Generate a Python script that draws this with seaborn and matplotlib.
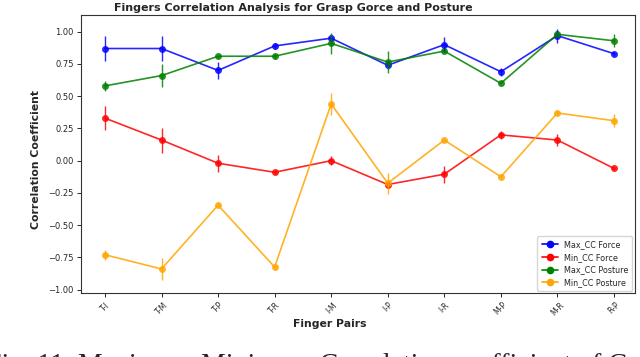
import numpy as np
import pandas as pd
import matplotlib
matplotlib.use("Agg")
import matplotlib.pyplot as plt
import seaborn as sns
from matplotlib.lines import Line2D

pairs = ["T-I", "T-M", "T-P", "T-R", "I-M", "I-P", "I-R", "M-P", "M-R", "R-P"]

max_force = [0.87, 0.87, 0.70, 0.89, 0.95, 0.74, 0.90, 0.69, 0.97, 0.83]
max_force_err = [0.095, 0.095, 0.065, 0.02, 0.03, 0.03, 0.06, 0.03, 0.055, 0.01]

min_force = [0.33, 0.16, -0.02, -0.09, 0.00, -0.185, -0.105, 0.20, 0.16, -0.06]
min_force_err = [0.093, 0.097, 0.065, 0.01, 0.035, 0.02, 0.065, 0.03, 0.05, 0.01]

max_posture = [0.58, 0.66, 0.81, 0.81, 0.91, 0.765, 0.85, 0.60, 0.98, 0.93]
max_posture_err = [0.04, 0.088, 0.01, 0.02, 0.084, 0.088, 0.01, 0.005, 0.02, 0.05]

min_posture = [-0.73, -0.84, -0.345, -0.825, 0.44, -0.175, 0.16, -0.125, 0.37, 0.31]
min_posture_err = [0.04, 0.088, 0.01, 0.01, 0.084, 0.083, 0.01, 0.01, 0.01, 0.05]

series_names = ["Max_CC Force", "Min_CC Force", "Max_CC Posture", "Min_CC Posture"]
series_vals = [max_force, min_force, max_posture, min_posture]
series_errs = [max_force_err, min_force_err, max_posture_err, min_posture_err]
colors = ["blue", "red", "green", "orange"]

rows = []
for name, vals, errs in zip(series_names, series_vals, series_errs):
    for i, (p, v, e) in enumerate(zip(pairs, vals, errs)):
        rows.append({"pos": i, "pair": p, "value": v, "err": e, "series": name})
df = pd.DataFrame(rows)

sns.set_style("ticks")
plt.rcParams["font.family"] = ["DejaVu Sans"]

fig = plt.figure(figsize=(6.4, 3.57), dpi=100)
ax = fig.add_axes([0.126, 0.178, 0.866, 0.780])

palette = dict(zip(series_names, colors))
sns.lineplot(data=df, x="pos", y="value", hue="series", hue_order=series_names,
             palette=palette, marker="o", markersize=5, markeredgewidth=0,
             linewidth=1.2, alpha=0.85, legend=False, ax=ax, sort=False,
             estimator=None)

for name, c in zip(series_names, colors):
    sub = df[df["series"] == name]
    ax.errorbar(sub["pos"], sub["value"], yerr=sub["err"], fmt="none",
                ecolor=c, elinewidth=1.0, alpha=0.85)

leg_handles = [Line2D([0], [0], color=c, marker="o", markersize=4.5, linewidth=1.2)
               for c in colors]
ax.legend(leg_handles, series_names, loc="lower right", fontsize=5.8,
          frameon=True, borderpad=0.5, handlelength=2.0, labelspacing=0.45,
          borderaxespad=0.3)

yt = [-1.0, -0.75, -0.5, -0.25, 0.0, 0.25, 0.5, 0.75, 1.0]
ax.set_xlim(-0.43, 9.37)
ax.set_ylim(-1.03, 1.13)
ax.set_xticks(range(len(pairs)))
ax.set_xticklabels(pairs, rotation=45, fontsize=5.5)
ax.set_yticks(yt)
ax.set_yticklabels([f"{v:.2f}".replace("-", "\u2212") for v in yt], fontsize=6)
ax.tick_params(length=3, width=0.7, pad=2)
for s in ax.spines.values():
    s.set_linewidth(0.8)
    s.set_color("#333333")
    s.set_visible(True)

ax.set_title("Fingers Correlation Analysis for Grasp Gorce and Posture",
             fontsize=8.0, fontweight="bold", x=0.383, pad=3)
ax.set_xlabel("Finger Pairs", fontsize=7.8, fontweight="bold", x=0.45, labelpad=1)
ax.set_ylabel("Correlation Coefficient", fontsize=7.8, fontweight="bold", y=0.48,
              labelpad=5)

fig.text(-14 / 640, -15 / 357,
         "Fig. 11. Maximum Minimum Correlation coefficient of Grasp Force",
         fontsize=20, family=["Liberation Serif", "DejaVu Serif"],
         va="baseline", ha="left")

fig.savefig("out.png", dpi=100)
